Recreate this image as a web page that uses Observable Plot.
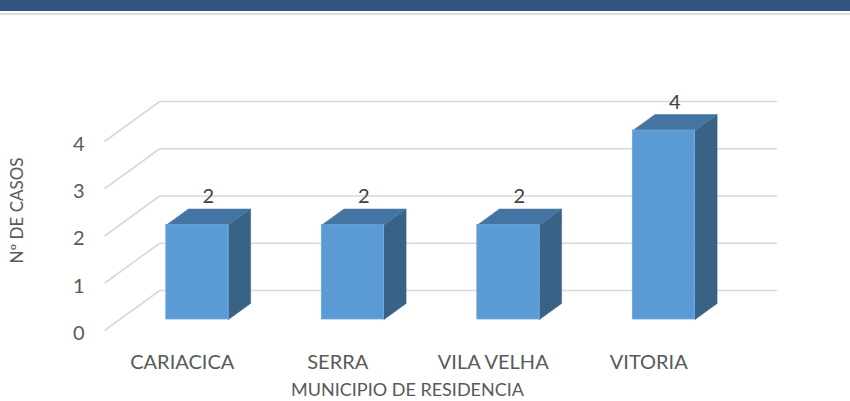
<!DOCTYPE html>
<html>
<head>
<meta charset="utf-8">
<script src="https://cdn.jsdelivr.net/npm/d3@7"></script>
<script src="https://cdn.jsdelivr.net/npm/@observablehq/plot@0.6"></script>
<style>
  html, body { margin: 0; padding: 0; background: #fff; }
  #band { height: 11px; background: #31547F; }
  #gap { height: 2px; background: #fff; }
  #rule { height: 2px; background: #dcdcdc; }
</style>
</head>
<body>
<div id="band"></div><div id="gap"></div><div id="rule"></div>
<div id="chart"></div>
<script>
const categories = ["CARIACICA", "SERRA", "VILA VELHA", "VITORIA"];
const casos = [2, 2, 2, 4];
const yTicks = [0, 1, 2, 3, 4];
const yTitle = "Nº DE CASOS";
const xTitle = "MUNICIPIO DE RESIDENCIA";

// 3D depth vector (in data units) of the floor, and bar placement along it
const DX = 0.355, DY = 0.847;
const F1 = 0.275, F2 = 0.675, HW = 0.2;

const bars = categories.map((c, i) => ({c, i, v: casos[i]}));

const front = bars.map(b => ({
  x1: b.i + F1 * DX - HW, x2: b.i + F1 * DX + HW,
  y1: F1 * DY, y2: b.v + F1 * DY
}));
const topFace = bars.flatMap(b => [
  [b.i + F1 * DX - HW, b.v + F1 * DY], [b.i + F1 * DX + HW, b.v + F1 * DY],
  [b.i + F2 * DX + HW, b.v + F2 * DY], [b.i + F2 * DX - HW, b.v + F2 * DY],
  [b.i + F1 * DX - HW, b.v + F1 * DY]
].map(([x, y]) => ({x, y, z: b.c})));
const sideFace = bars.flatMap(b => [
  [b.i + F1 * DX + HW, F1 * DY], [b.i + F2 * DX + HW, F2 * DY],
  [b.i + F2 * DX + HW, b.v + F2 * DY], [b.i + F1 * DX + HW, b.v + F1 * DY],
  [b.i + F1 * DX + HW, F1 * DY]
].map(([x, y]) => ({x, y, z: b.c})));

const xmin = -0.5, xmax = categories.length - 0.5;

const chart = Plot.plot({
  width: 850,
  height: 386,
  margin: 0,
  style: {fontFamily: "Lato, 'Open Sans', sans-serif", background: "#fff"},
  x: {type: "linear", domain: [xmin, xmax], range: [104, 726], axis: null},
  y: {type: "linear", domain: [0, 4], range: [315, 126], axis: null},
  marks: [
    // back wall gridlines
    Plot.link(yTicks, {x1: xmin + DX, x2: xmax + DX - 0.03, y1: d => d + DY, y2: d => d + DY, stroke: "#d9d9d9", strokeWidth: 1.6}),
    // side wall diagonals
    Plot.link(yTicks, {x1: xmin, x2: xmin + DX, y1: d => d, y2: d => d + DY, stroke: "#d9d9d9", strokeWidth: 1.6}),
    // bars
    Plot.line(sideFace, {x: "x", y: "y", z: "z", fill: "#386387", stroke: "#386387", strokeWidth: 0.5}),
    Plot.line(topFace, {x: "x", y: "y", z: "z", fill: "#4474a2", stroke: "#4474a2", strokeWidth: 0.5}),
    Plot.rect(front, {x1: "x1", x2: "x2", y1: "y1", y2: "y2", fill: "#5b9bd5", stroke: "#6aa7dc", strokeWidth: 0.8}),
    // value labels
    Plot.text(bars, {x: "i", y: "v", text: d => String(d.v), dx: 26, dy: -39, fontSize: 20, fill: "#404040"}),
    // y tick labels
    Plot.text(yTicks, {x: xmin, y: d => d, text: d => String(d), textAnchor: "end", dx: -20, dy: 3, fontSize: 20, fill: "#595959"}),
    // category labels
    Plot.text(bars, {x: "i", y: 0, text: "c", dy: 32, fontSize: 20, fill: "#595959"}),
    // axis titles
    Plot.text([yTitle], {frameAnchor: "left", text: d => d, rotate: -90, textAnchor: "middle", dx: 17, dy: 2, fontSize: 17, fill: "#595959"}),
    Plot.text([xTitle], {frameAnchor: "bottom", text: d => d, textAnchor: "middle", lineAnchor: "middle", dx: -18, dy: -11, fontSize: 18, fill: "#595959"})
  ]
});
document.getElementById("chart").appendChild(chart);
</script>
</body>
</html>
